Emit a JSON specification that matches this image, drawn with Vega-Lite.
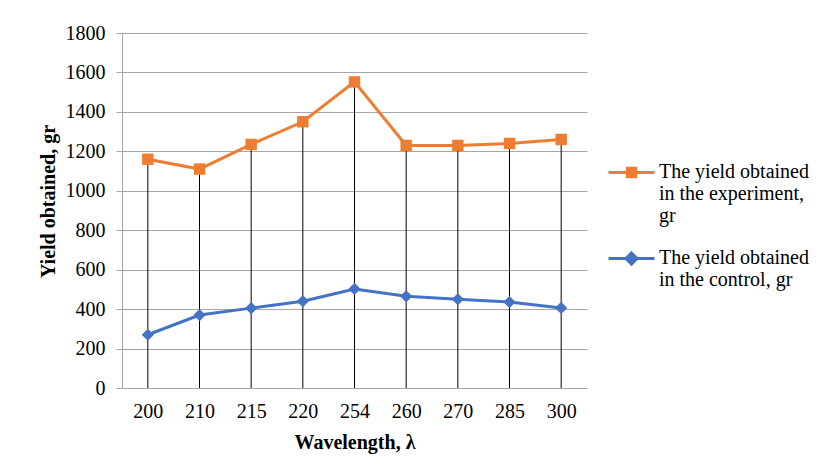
{
  "$schema": "https://vega.github.io/schema/vega-lite/v6.json",
  "width": 465,
  "height": 355,
  "autosize": {"type": "none"},
  "padding": {"left": 122, "top": 33, "right": 240, "bottom": 88},
  "background": "white",
  "config": {
    "font": "Liberation Serif",
    "view": {"stroke": null}
  },
  "data": {
    "values": [
      {"wl": "200", "series": "exp", "value": 1160},
      {"wl": "210", "series": "exp", "value": 1110},
      {"wl": "215", "series": "exp", "value": 1235},
      {"wl": "220", "series": "exp", "value": 1350},
      {"wl": "254", "series": "exp", "value": 1552},
      {"wl": "260", "series": "exp", "value": 1230},
      {"wl": "270", "series": "exp", "value": 1230},
      {"wl": "285", "series": "exp", "value": 1240},
      {"wl": "300", "series": "exp", "value": 1260},
      {"wl": "200", "series": "ctrl", "value": 270},
      {"wl": "210", "series": "ctrl", "value": 370},
      {"wl": "215", "series": "ctrl", "value": 405},
      {"wl": "220", "series": "ctrl", "value": 440},
      {"wl": "254", "series": "ctrl", "value": 502},
      {"wl": "260", "series": "ctrl", "value": 465},
      {"wl": "270", "series": "ctrl", "value": 450},
      {"wl": "285", "series": "ctrl", "value": 436},
      {"wl": "300", "series": "ctrl", "value": 406}
    ]
  },
  "encoding": {
    "x": {
      "field": "wl",
      "type": "ordinal",
      "sort": null,
      "scale": {"type": "point", "padding": 0.5},
      "axis": {
        "title": "Wavelength, λ",
        "titleFont": "Liberation Serif",
        "titleFontSize": 20,
        "titleFontWeight": "bold",
        "titleColor": "#000",
        "titlePadding": 11,
        "labelFont": "Liberation Serif",
        "labelFontSize": 20,
        "labelColor": "#000",
        "labelPadding": 13,
        "labelAngle": 0,
        "domain": false,
        "ticks": false,
        "grid": false
      }
    },
    "y": {
      "field": "value",
      "type": "quantitative",
      "scale": {"domain": [0, 1800], "nice": false},
      "axis": {
        "title": "Yield obtained, gr",
        "titleFont": "Liberation Serif",
        "titleFontSize": 20,
        "titleFontWeight": "bold",
        "titleColor": "#000",
        "titleX": -74,
        "titleY": 168,
        "titleBaseline": "middle",
        "labelFont": "Liberation Serif",
        "labelFontSize": 20,
        "labelColor": "#000",
        "labelPadding": 11,
        "format": "d",
        "values": [0, 200, 400, 600, 800, 1000, 1200, 1400, 1600, 1800],
        "domainColor": "#a6a6a6",
        "domainWidth": 1,
        "tickColor": "#a6a6a6",
        "tickSize": 6,
        "gridColor": "#a6a6a6",
        "gridWidth": 1,
        "gridOpacity": 1
      }
    }
  },
  "layer": [
    {
      "transform": [{"filter": "datum.series === 'exp'"}],
      "mark": {"type": "rule", "color": "#000", "strokeWidth": 1},
      "encoding": {"y2": {"datum": 0}}
    },
    {
      "mark": {"type": "line", "strokeWidth": 3},
      "encoding": {
        "color": {
          "field": "series",
          "type": "nominal",
          "scale": {"domain": ["exp", "ctrl"], "range": ["#ED7D31", "#4472C4"]},
          "legend": {
            "orient": "none",
            "legendX": 485,
            "legendY": 115,
            "title": null,
            "padding": 0,
            "symbolSize": 2116,
            "symbolStrokeWidth": 3,
            "labelFont": "Liberation Serif",
            "labelFontSize": 20,
            "labelLineHeight": 22,
            "labelColor": "#000",
            "labelOffset": 3,
            "labelLimit": 300,
            "labelBaseline": "top",
            "rowPadding": 8,
            "labelExpr": "datum.value === 'exp' ? ['The yield obtained', 'in the experiment,', 'gr'] : ['The yield obtained', 'in the control, gr']",
            "encode": {
              "labels": {
                "update": {"dy": {"value": -11}}
              },
              "symbols": {
                "update": {
                  "shape": {"signal": "datum.value === 'exp' ? 'M-1,0H1M-0.18,-0.18H0.18V0.18H-0.18Z' : 'M-1,0H1M0,-0.24L0.24,0L0,0.24L-0.24,0Z'"},
                  "fill": {"scale": "color", "field": "value"},
                  "stroke": {"scale": "color", "field": "value"},
                  "strokeWidth": {"value": 3},
                  "opacity": {"value": 1},
                  "fillOpacity": {"value": 1}
                }
              }
            }
          }
        }
      }
    },
    {
      "transform": [{"filter": "datum.series === 'exp'"}],
      "mark": {"type": "point", "filled": true, "opacity": 1, "shape": "square", "size": 130, "color": "#ED7D31"}
    },
    {
      "transform": [{"filter": "datum.series === 'ctrl'"}],
      "mark": {"type": "point", "filled": true, "opacity": 1, "shape": "diamond", "size": 150, "color": "#4472C4"}
    }
  ]
}
